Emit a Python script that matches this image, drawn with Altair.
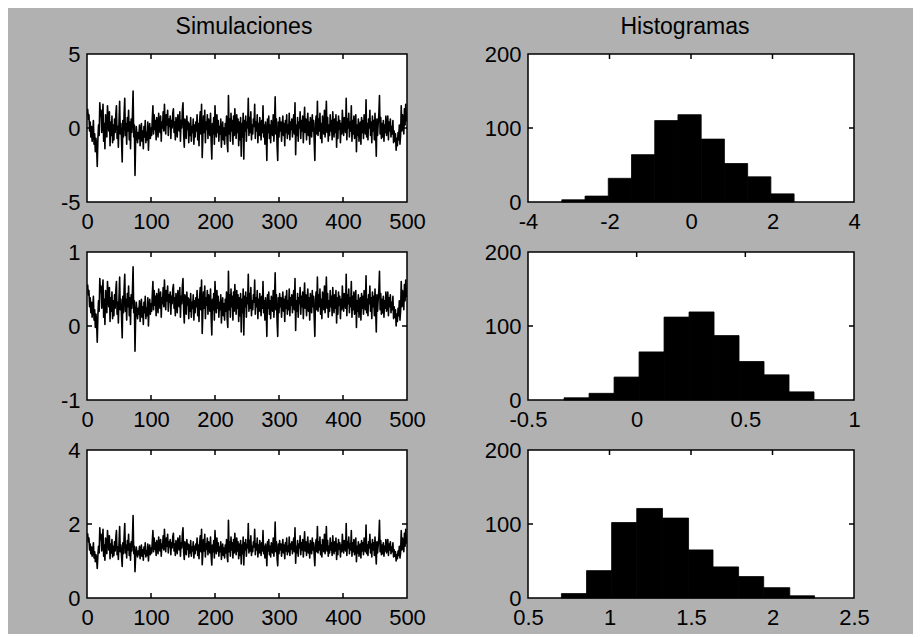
import altair as alt
import pandas as pd

# ---------------- data ----------------
S1 = [
1.3,0.6,0.9,-0.2,0.4,-0.6,0.1,-0.9,-0.3,0.5,-1.1,-0.4,-1.6,-0.7,-1.2,-2.6,-0.8,0.2,-0.5,1.7,
0.8,1.2,-0.3,0.5,1.6,-0.9,0.3,-1.4,0.9,0.2,-0.6,1.5,0.7,-0.2,1.1,-1.2,0.4,-0.5,0.8,-1.0,
0.2,-0.8,0.6,-0.3,0.9,1.5,-0.7,0.1,-1.3,0.4,1.8,-0.4,0.3,-0.9,-2.3,0.5,-0.6,1.0,2.0,-0.5,
0.3,-1.1,0.7,-0.2,1.2,-0.8,0.4,-1.4,0.6,-0.3,0.9,2.5,-0.6,0.2,-3.2,-0.9,0.1,-0.5,-1.0,-0.3,
-0.7,0.2,-1.2,-0.4,0.3,-0.9,-0.2,-1.4,0.1,-0.6,0.5,-1.0,-0.3,-0.8,0.4,-1.5,-0.2,0.3,-0.7,0.0,
-0.5,0.6,1.5,-0.4,0.9,-0.1,0.5,-0.8,0.7,0.1,-0.6,1.0,0.2,-0.3,0.8,-0.9,0.4,0.0,1.1,-0.2,
1.6,0.3,-0.4,0.9,0.2,1.2,-0.5,0.6,0.1,0.8,-0.7,0.5,0.0,1.0,1.3,-0.3,0.4,-0.8,0.7,0.2,
-0.6,0.9,0.3,-0.2,1.1,-0.9,0.5,0.0,1.2,1.7,-0.4,-1.3,0.6,0.2,-0.7,0.8,-0.1,0.4,-1.0,0.3,
-0.5,0.7,-0.9,0.1,-0.3,0.6,-1.1,0.2,-0.6,0.4,-0.2,0.9,-0.8,0.3,-1.2,0.5,1.1,-0.4,1.6,-2.0,
-0.6,0.8,-0.3,1.2,-1.0,0.4,-0.1,0.9,-0.7,0.6,0.1,-0.5,1.0,-0.9,-2.1,0.3,-0.4,0.7,-1.1,1.5,
0.2,-0.6,0.9,-0.3,0.5,-0.9,0.1,-0.4,0.6,-1.3,-0.2,0.4,-0.8,0.0,-1.1,0.3,-0.5,0.8,-1.0,-1.6,
2.2,-0.4,0.6,-0.9,1.0,-0.2,0.5,-1.1,0.8,-0.5,1.3,0.1,-0.7,0.9,-0.3,0.6,-1.2,0.4,-0.8,0.7,
-1.9,0.3,-0.6,1.0,-2.1,0.5,-0.2,0.8,-0.9,0.4,0.0,2.0,-0.5,0.7,-0.3,1.1,-0.8,0.2,-0.4,0.6,
0.1,1.6,-0.7,0.4,-0.2,0.9,-1.0,0.3,-0.5,0.7,0.0,-0.8,0.5,-0.3,1.5,-0.6,0.2,-1.1,0.4,-0.4,
-2.2,0.6,-0.3,0.8,-0.7,0.2,-1.0,0.5,0.0,-0.5,0.9,-0.9,0.3,2.1,-0.4,0.6,-1.2,-2.2,0.4,-0.6,
0.7,-0.2,0.4,-0.9,0.1,0.8,-0.5,0.3,-1.2,0.5,-0.3,0.9,-0.7,0.2,-0.4,1.0,-0.8,0.4,-0.1,0.6,
-0.6,0.3,0.9,-0.4,1.7,-1.8,0.2,-0.5,0.7,-0.9,0.4,0.0,1.1,-0.7,0.5,-0.2,0.8,-1.0,0.3,1.4,
-0.3,0.6,-0.8,0.2,1.0,-0.5,0.4,-1.1,0.7,0.1,-0.6,0.9,-0.2,0.5,-0.9,-2.2,0.3,0.8,-0.4,1.8,
-0.5,0.6,-0.2,1.0,-0.7,0.3,-1.0,0.8,0.1,-0.4,1.2,-0.6,0.4,1.8,-0.3,0.7,-0.9,0.2,-0.5,0.9,
-0.2,0.5,-0.8,1.1,0.0,-0.6,0.6,-0.3,0.9,-1.3,0.4,-0.7,0.8,-0.1,0.5,-1.0,0.3,-0.4,1.2,0.1,
-0.5,0.7,0.2,-0.3,2.0,-0.8,0.6,0.0,1.0,-0.6,0.4,-0.2,1.5,-0.9,0.5,-0.4,0.8,-0.7,0.3,0.9,
-1.6,0.2,-0.5,0.6,-0.9,0.1,0.4,-1.1,0.7,-0.3,0.5,-0.7,0.9,0.2,-0.4,1.9,-0.6,0.3,-0.8,0.6,
0.0,1.2,-0.5,0.4,-1.0,0.8,-0.2,0.5,-0.8,1.0,-0.3,-1.9,0.6,-0.5,0.3,0.9,2.2,-0.4,0.7,-0.7,
0.3,-0.6,0.5,-0.9,0.2,-0.3,0.8,-0.5,0.1,0.8,-0.8,0.4,-0.2,0.6,-0.6,0.1,-0.4,0.5,-1.0,-0.2,
-0.9,-0.4,-1.5,-0.7,-1.2,-0.3,-0.8,0.2,-1.1,-0.5,1.5,-0.2,0.9,0.3,-0.4,1.3,0.2,1.6,0.5,0.8,
]

S2 = [
.56,.42,.48,.26,.38,.18,.32,.12,.24,.40,.08,.22,-.02,.16,.06,-.22,.14,.34,.20,.64,
.46,.54,.24,.40,.62,.12,.36,.02,.48,.34,.18,.60,.44,.26,.52,.06,.38,.20,.46,.10,
.34,.14,.42,.24,.48,.60,.16,.32,.04,.38,.66,.22,.36,.12,-.16,.40,.18,.50,.70,.20,
.36,.08,.44,.26,.54,.14,.38,.02,.42,.24,.48,.80,.18,.34,-.34,.12,.32,.20,.10,.24,
.16,.34,.06,.22,.36,.12,.26,.02,.32,.18,.40,.10,.24,.14,.38,.00,.26,.36,.16,.30,
.20,.42,.60,.22,.48,.28,.40,.14,.44,.32,.18,.50,.34,.24,.46,.12,.38,.30,.52,.26,
.62,.36,.22,.48,.34,.54,.20,.42,.32,.46,.16,.40,.30,.50,.56,.24,.38,.14,.44,.34,
.18,.48,.36,.26,.52,.12,.40,.30,.54,.64,.22,.04,.42,.34,.16,.46,.28,.38,.10,.36,
.20,.44,.12,.32,.24,.42,.08,.34,.18,.38,.26,.48,.14,.36,.06,.40,.52,.22,.62,-.10,
.18,.46,.24,.54,.10,.38,.28,.48,.16,.42,.32,.20,.50,.12,-.12,.36,.22,.44,.08,.60,
.34,.18,.48,.24,.40,.12,.32,.22,.42,.04,.26,.38,.14,.30,.08,.36,.20,.46,.10,-.02,
.74,.22,.42,.12,.50,.26,.40,.08,.46,.20,.56,.32,.16,.48,.24,.42,.06,.38,.14,.44,
-.08,.36,.18,.50,-.12,.40,.26,.46,.12,.38,.30,.70,.20,.44,.24,.52,.14,.34,.22,.42,
.32,.62,.16,.38,.26,.48,.10,.36,.20,.44,.30,.14,.40,.24,.60,.18,.34,.08,.38,.22,
-.14,.42,.24,.46,.16,.34,.10,.40,.30,.20,.48,.12,.36,.72,.22,.42,.06,-.14,.38,.18,
.44,.26,.38,.12,.32,.46,.20,.36,.06,.40,.24,.48,.16,.34,.22,.50,.14,.38,.28,.42,
.18,.36,.48,.22,.64,-.06,.34,.20,.44,.12,.38,.30,.52,.16,.40,.26,.46,.10,.36,.58,
.24,.42,.14,.34,.50,.20,.38,.08,.44,.32,.18,.48,.26,.40,.12,-.14,.36,.46,.22,.66,
.20,.42,.26,.50,.16,.36,.10,.46,.32,.22,.54,.18,.38,.66,.24,.44,.12,.34,.20,.48,
.26,.40,.14,.52,.30,.18,.42,.24,.48,.04,.38,.16,.46,.28,.40,.10,.36,.22,.54,.32,
.20,.44,.34,.24,.70,.14,.42,.30,.50,.18,.38,.26,.60,.12,.40,.22,.46,.16,.36,.48,
-.02,.34,.20,.42,.12,.32,.38,.08,.44,.24,.40,.16,.48,.34,.22,.68,.18,.36,.14,.42,
.30,.54,.20,.38,.10,.46,.26,.40,.14,.50,.24,-.08,.42,.20,.36,.48,.74,.22,.44,.16,
.36,.18,.40,.12,.34,.24,.46,.20,.32,.46,.14,.38,.26,.42,.18,.32,.22,.40,.10,.26,
.12,.22,.00,.16,.06,.24,.14,.34,.08,.20,.60,.26,.48,.36,.22,.56,.34,.62,.40,.46,
]

S3 = [
1.75,1.52,1.62,1.30,1.46,1.20,1.38,1.13,1.27,1.49,1.08,1.25,0.98,1.17,1.06,0.80,1.15,1.40,1.22,1.90,
1.58,1.72,1.27,1.49,1.86,1.13,1.43,1.02,1.62,1.40,1.20,1.82,1.55,1.30,1.68,1.06,1.46,1.22,1.58,1.11,
1.40,1.15,1.52,1.27,1.62,1.82,1.17,1.38,1.04,1.46,1.93,1.25,1.43,1.13,0.85,1.49,1.20,1.65,2.01,1.22,
1.43,1.08,1.55,1.30,1.72,1.15,1.46,1.02,1.52,1.27,1.62,2.23,1.20,1.40,0.71,1.13,1.38,1.22,1.11,1.27,
1.17,1.40,1.06,1.25,1.43,1.13,1.30,1.02,1.38,1.20,1.49,1.11,1.27,1.15,1.46,1.00,1.30,1.43,1.17,1.35,
1.22,1.52,1.82,1.25,1.62,1.32,1.49,1.15,1.55,1.38,1.20,1.65,1.40,1.27,1.58,1.13,1.46,1.35,1.68,1.30,
1.86,1.43,1.25,1.62,1.40,1.72,1.22,1.52,1.38,1.58,1.17,1.49,1.35,1.65,1.75,1.27,1.46,1.15,1.55,1.40,
1.20,1.62,1.43,1.30,1.68,1.13,1.49,1.35,1.72,1.90,1.25,1.04,1.52,1.40,1.17,1.58,1.32,1.46,1.11,1.43,
1.22,1.55,1.13,1.38,1.27,1.52,1.08,1.40,1.20,1.46,1.30,1.62,1.15,1.43,1.06,1.49,1.68,1.25,1.86,0.90,
1.20,1.58,1.27,1.72,1.11,1.46,1.32,1.62,1.17,1.52,1.38,1.22,1.65,1.13,0.89,1.43,1.25,1.55,1.08,1.82,
1.40,1.20,1.62,1.27,1.49,1.13,1.38,1.25,1.52,1.04,1.30,1.46,1.15,1.35,1.08,1.43,1.22,1.58,1.11,0.98,
2.10,1.25,1.52,1.13,1.65,1.30,1.49,1.08,1.58,1.22,1.75,1.38,1.17,1.62,1.27,1.52,1.06,1.46,1.15,1.55,
0.92,1.43,1.20,1.65,0.89,1.49,1.30,1.58,1.13,1.46,1.35,2.01,1.22,1.55,1.27,1.68,1.15,1.40,1.25,1.52,
1.38,1.86,1.17,1.46,1.30,1.62,1.11,1.43,1.22,1.55,1.35,1.15,1.49,1.27,1.82,1.20,1.40,1.08,1.46,1.25,
0.87,1.52,1.27,1.58,1.17,1.40,1.11,1.49,1.35,1.22,1.62,1.13,1.43,2.05,1.25,1.52,1.06,0.87,1.46,1.20,
1.55,1.30,1.46,1.13,1.38,1.58,1.22,1.43,1.06,1.49,1.27,1.62,1.17,1.40,1.25,1.65,1.15,1.46,1.32,1.52,
1.20,1.43,1.62,1.25,1.90,0.94,1.40,1.22,1.55,1.13,1.46,1.35,1.68,1.17,1.49,1.30,1.58,1.11,1.43,1.79,
1.27,1.52,1.15,1.40,1.65,1.22,1.46,1.08,1.55,1.38,1.20,1.62,1.30,1.49,1.13,0.87,1.43,1.58,1.25,1.93,
1.22,1.52,1.30,1.65,1.17,1.43,1.11,1.58,1.38,1.25,1.72,1.20,1.46,1.93,1.27,1.55,1.13,1.40,1.22,1.62,
1.30,1.49,1.15,1.68,1.35,1.20,1.52,1.27,1.62,1.04,1.46,1.17,1.58,1.32,1.49,1.11,1.43,1.25,1.72,1.38,
1.22,1.55,1.40,1.27,2.01,1.15,1.52,1.35,1.65,1.20,1.46,1.30,1.82,1.13,1.49,1.25,1.58,1.17,1.43,1.62,
0.98,1.40,1.22,1.52,1.13,1.38,1.46,1.08,1.55,1.27,1.49,1.17,1.62,1.40,1.25,1.97,1.20,1.43,1.15,1.52,
1.35,1.72,1.22,1.46,1.11,1.58,1.30,1.49,1.15,1.65,1.27,0.92,1.52,1.22,1.43,1.62,2.10,1.25,1.55,1.17,
1.43,1.20,1.49,1.13,1.40,1.27,1.58,1.22,1.38,1.58,1.15,1.46,1.30,1.52,1.20,1.38,1.25,1.49,1.11,1.30,
1.13,1.25,1.00,1.17,1.06,1.27,1.15,1.40,1.08,1.22,1.82,1.30,1.62,1.43,1.25,1.75,1.40,1.86,1.49,1.58,
]

H1_EDGES = [-3.17, -2.60, -2.03, -1.46, -0.89, -0.32, 0.25, 0.82, 1.39, 1.96, 2.53]
H1_COUNTS = [3, 8, 32, 64, 110, 118, 85, 52, 34, 11]
H2_EDGES = [-0.334, -0.219, -0.104, 0.011, 0.126, 0.241, 0.356, 0.471, 0.586, 0.701, 0.816]
H2_COUNTS = [3, 9, 31, 65, 112, 119, 87, 52, 34, 11]
H3_EDGES = [0.705, 0.859, 1.013, 1.167, 1.325, 1.485, 1.635, 1.792, 1.946, 2.106, 2.258]
H3_COUNTS = [6, 37, 102, 121, 108, 65, 42, 29, 14, 3]

TS_X_LABELS = [0, 100, 200, 300, 400, 500]
TS_Y_LABELS = [[-5, 0, 5], [-1, 0, 1], [0, 2, 4]]
H_X_LABELS = [[-4, -2, 0, 2, 4], [-0.5, 0, 0.5, 1], [0.5, 1, 1.5, 2, 2.5]]
H_Y_LABELS = [0, 100, 200]

TITLE_LEFT = "Simulaciones"
TITLE_RIGHT = "Histogramas"

# ---------------- styling ----------------
FONT = "Liberation Sans"
FS = 22
TITLE_FS = 23
W_L, W_R = 320, 326
H = 148
TICK = 5


def make_axis(values, pad):
    return alt.Axis(values=values, title=None, labelExpr="datum.value + ''",
                    labelPadding=pad, ticks=False, tickSize=0, domain=False,
                    grid=False, labelFlush=False, labelOverlap=False,
                    labelFont=FONT, labelFontSize=FS, labelColor="black")


def inner_ticks(xs, ys, xa, ya, xvals, yvals, w, h):
    layers = []
    xt = pd.DataFrame({"t": [v for v in xvals if v not in (xs.domain[0], xs.domain[1])]})
    yt = pd.DataFrame({"t": [v for v in yvals if v not in (ys.domain[0], ys.domain[1])]})
    X = alt.X("t:Q", scale=xs, axis=xa)
    Y = alt.Y("t:Q", scale=ys, axis=ya)
    rule = dict(color="black", strokeWidth=1.5)
    layers.append(alt.Chart(xt).mark_rule(**rule).encode(x=X, y=alt.value(h), y2=alt.value(h - TICK)))
    layers.append(alt.Chart(xt).mark_rule(**rule).encode(x=X, y=alt.value(0), y2=alt.value(TICK)))
    layers.append(alt.Chart(yt).mark_rule(**rule).encode(y=Y, x=alt.value(0), x2=alt.value(TICK)))
    layers.append(alt.Chart(yt).mark_rule(**rule).encode(y=Y, x=alt.value(w), x2=alt.value(w - TICK)))
    return layers


def title_params(text, dx):
    return alt.TitleParams(text, font=FONT, fontSize=TITLE_FS, fontWeight="normal", color="black",
                           offset=-14, baseline="alphabetic", frame="group", anchor="middle", dx=dx)


def ts_panel(values, ylabels, title=None):
    df = pd.DataFrame({"i": list(range(1, len(values) + 1)), "v": values})
    xs = alt.Scale(domain=[0, 500], nice=False, zero=False)
    ys = alt.Scale(domain=[ylabels[0], ylabels[-1]], nice=False, zero=False)
    xa = make_axis(TS_X_LABELS, 9)
    ya = make_axis(ylabels, 7)
    main = alt.Chart(df).mark_line(color="black", strokeWidth=1.6, strokeJoin="round", clip=True).encode(
        x=alt.X("i:Q", scale=xs, axis=xa), y=alt.Y("v:Q", scale=ys, axis=ya))
    ch = alt.layer(main, *inner_ticks(xs, ys, xa, ya, TS_X_LABELS, ylabels, W_L, H)).properties(width=W_L, height=H)
    if title:
        ch = ch.properties(title=title_params(title, -3))
    return ch


def hist_panel(edges, counts, xlabels, title=None):
    df = pd.DataFrame({"lo": edges[:-1], "hi": edges[1:], "c": counts})
    xs = alt.Scale(domain=[xlabels[0], xlabels[-1]], nice=False, zero=False)
    ys = alt.Scale(domain=[0, 200], nice=False, zero=False)
    xa = make_axis(xlabels, 9)
    ya = make_axis(H_Y_LABELS, 7)
    main = alt.Chart(df).mark_rect(color="black", stroke="black", strokeWidth=0.8).encode(
        x=alt.X("lo:Q", scale=xs, axis=xa), x2="hi:Q",
        y=alt.Y("c:Q", scale=ys, axis=ya), y2=alt.datum(0))
    ch = alt.layer(main, *inner_ticks(xs, ys, xa, ya, xlabels, H_Y_LABELS, W_R, H)).properties(width=W_R, height=H)
    if title:
        ch = ch.properties(title=title_params(title, -6))
    return ch


series = [S1, S2, S3]
hists = [(H1_EDGES, H1_COUNTS), (H2_EDGES, H2_COUNTS), (H3_EDGES, H3_COUNTS)]
panels = []
for k in range(3):
    panels.append(ts_panel(series[k], TS_Y_LABELS[k], TITLE_LEFT if k == 0 else None))
    panels.append(hist_panel(hists[k][0], hists[k][1], H_X_LABELS[k], TITLE_RIGHT if k == 0 else None))

chart = alt.concat(*panels, columns=2, spacing={"row": 50, "column": 121}, bounds="flush").configure(
    background="#b1b1b1",
    padding={"left": 51, "top": 7, "right": 42, "bottom": 5},
).configure_view(stroke="black", strokeWidth=1.5, fill="white")

chart.save("out.html", embed_options={"renderer": "svg", "actions": False})
